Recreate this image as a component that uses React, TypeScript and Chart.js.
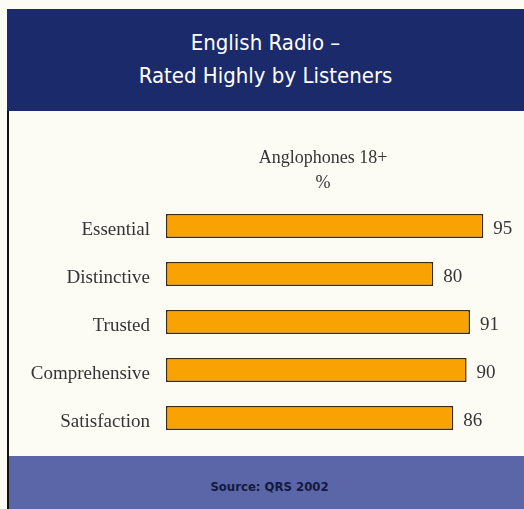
import React, { useEffect, useRef } from "react";
import { Chart, registerables } from "chart.js";

Chart.register(...registerables);

const categories = ["Essential", "Distinctive", "Trusted", "Comprehensive", "Satisfaction"];
const values = [95, 80, 91, 90, 86];
const titleLines = ["English Radio –", "Rated Highly by Listeners"];
const subtitleLines = ["Anglophones 18+", "%"];
const sourceText = "Source: QRS 2002";

const SERIF = '"Liberation Serif", "Times New Roman", serif';
const NARROW = '"Liberation Sans Narrow", "DejaVu Sans Condensed", "Liberation Sans", sans-serif';

const valueLabelPlugin = {
  id: "valueLabels",
  afterDatasetsDraw(chart: any) {
    const ctx = chart.ctx;
    const meta = chart.getDatasetMeta(0);
    ctx.save();
    ctx.font = `19px ${SERIF}`;
    ctx.fillStyle = "#353535";
    ctx.textAlign = "left";
    ctx.textBaseline = "middle";
    meta.data.forEach((bar: any, i: number) => {
      ctx.fillText(String(values[i]), bar.x + 10, bar.y + 3);
    });
    ctx.restore();
  },
};

export default function App() {
  const canvasRef = useRef<HTMLCanvasElement | null>(null);

  useEffect(() => {
    document.body.style.margin = "0";
    const canvas = canvasRef.current;
    if (!canvas) return;
    const chart = new Chart(canvas, {
      type: "bar",
      data: {
        labels: categories,
        datasets: [
          {
            data: values,
            backgroundColor: "#f9a204",
            borderColor: "#3a2c14",
            borderWidth: 1.5,
            borderSkipped: false,
            categoryPercentage: 1,
            barPercentage: 0.5,
          },
        ],
      },
      options: {
        indexAxis: "y",
        responsive: true,
        maintainAspectRatio: false,
        animation: false,
        devicePixelRatio: 1,
        layout: { padding: { top: 91, bottom: 14, left: 0, right: 24 } },
        plugins: {
          legend: { display: false },
          tooltip: { enabled: false },
          title: { display: false },
        },
        scales: {
          x: {
            display: false,
            min: 0,
            max: 100,
          },
          y: {
            grid: { display: false, drawTicks: false },
            border: { display: false },
            ticks: {
              color: "#353535",
              font: { family: SERIF, size: 19 },
              padding: 16,
              labelOffset: 4,
            },
            afterFit(scale: any) {
              scale.width = 166;
              scale.paddingTop = 0;
              scale.paddingBottom = 0;
            },
          },
        },
      },
      plugins: [valueLabelPlugin],
    });
    return () => chart.destroy();
  }, []);

  return (
    <div
      style={{
        position: "relative",
        width: 524,
        height: 509,
        background: "#fcfcf5",
        overflow: "hidden",
      }}
    >
      <div
        style={{
          position: "absolute",
          left: 7,
          top: 9,
          width: 517,
          height: 102,
          background: "#1b2a6b",
          color: "#ffffff",
          fontFamily: NARROW,
          fontSize: 22,
          lineHeight: "33px",
          textAlign: "center",
          paddingTop: 17,
          boxSizing: "border-box",
          fontStretch: "condensed",
        }}
      >
        {titleLines.map((t) => (
          <div key={t}>{t}</div>
        ))}
      </div>
      <div
        style={{
          position: "absolute",
          left: 7,
          top: 111,
          width: 2,
          height: 398,
          background: "#111111",
        }}
      />
      <div style={{ position: "absolute", left: 0, top: 111, width: 524, height: 345 }}>
        <canvas ref={canvasRef} />
      </div>
      <div
        style={{
          position: "absolute",
          left: 223,
          top: 145,
          width: 200,
          textAlign: "center",
          fontFamily: SERIF,
          fontSize: 18,
          lineHeight: "25px",
          color: "#353535",
        }}
      >
        {subtitleLines.map((t) => (
          <div key={t}>{t}</div>
        ))}
      </div>
      <div
        style={{
          position: "absolute",
          left: 9,
          top: 456,
          width: 515,
          height: 53,
          background: "#5a66a8",
          color: "#15193f",
          fontFamily: NARROW,
          fontWeight: "bold",
          fontSize: 13,
          lineHeight: "53px",
          textAlign: "center",
          paddingLeft: 6,
          paddingTop: 4,
          boxSizing: "border-box",
        }}
      >
        {sourceText}
      </div>
    </div>
  );
}
